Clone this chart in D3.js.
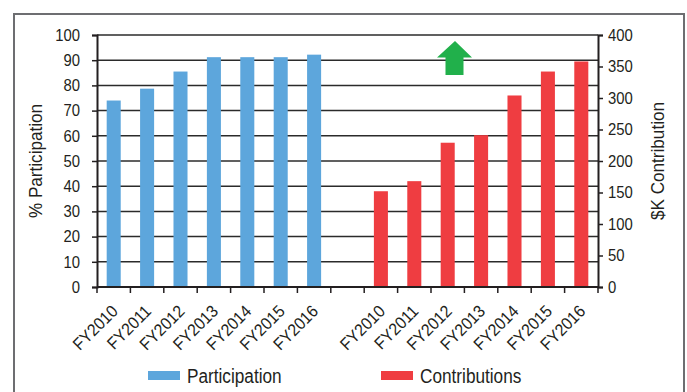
<!DOCTYPE html>
<html>
<head>
<meta charset="utf-8">
<script src="https://cdn.jsdelivr.net/npm/d3@7"></script>
<style>
body { margin: 0; background: #fff; }
text { font-family: "Liberation Sans", Arial, sans-serif; fill: #231f20; }
</style>
</head>
<body>
<div id="chart-area"></div>
<script>
// values
var years = ["FY2010", "FY2011", "FY2012", "FY2013", "FY2014", "FY2015", "FY2016"];
var participation = [74, 78.7, 85.5, 91.2, 91.2, 91.2, 92.2];   // %
var contributions = [152, 168, 229, 241, 304, 342, 358];       // $K
var leftTicks = [0, 10, 20, 30, 40, 50, 60, 70, 80, 90, 100];
var rightTicks = [0, 50, 100, 150, 200, 250, 300, 350, 400];
var seriesNames = ["Participation", "Contributions"];

var blue = "#5da6dc", red = "#ef3d41", green = "#21b04b";

var W = 687, H = 392;
var margin = {top: 35, right: 89, bottom: 105, left: 97};
var width = W - margin.left - margin.right,
    height = H - margin.top - margin.bottom;

// the source font is a narrow one, so squeeze the glyphs a bit
function condense(sel, f) {
    sel.each(function() {
        var len = this.getComputedTextLength();
        d3.select(this)
            .attr("textLength", len * f)
            .attr("lengthAdjust", "spacingAndGlyphs");
    });
}

var svg = d3.select("#chart-area")
    .append("svg")
    .attr("width", W)
    .attr("height", H);

// outer frame
svg.append("rect")
    .attr("x", 14).attr("y", 14)
    .attr("width", 670).attr("height", 400)
    .attr("fill", "none")
    .attr("stroke", "#6d6e71")
    .attr("stroke-width", 2);

var g = svg.append("g")
    .attr("transform", "translate(" + margin.left + "," + margin.top + ")");

// 7 participation slots, one empty slot, 7 contribution slots
var slots = years.map(function(y) { return "P" + y; })
    .concat(["gap"])
    .concat(years.map(function(y) { return "C" + y; }));

var x = d3.scaleBand()
    .domain(slots)
    .range([0, width])
    .padding(0);

var yL = d3.scaleLinear().domain([0, 100]).range([height, 0]);
var yR = d3.scaleLinear().domain([0, 400]).range([height, 0]);

var barW = x.bandwidth() * 0.42;

// gridlines
g.selectAll(".grid")
    .data(leftTicks.filter(function(d) { return d > 0; }))
    .enter().append("line")
    .attr("class", "grid")
    .attr("x1", 0).attr("x2", width)
    .attr("y1", function(d) { return yL(d); })
    .attr("y2", function(d) { return yL(d); })
    .attr("stroke", "#2b2b2b")
    .attr("stroke-width", 1.5);

// bars
g.selectAll(".bar-p")
    .data(participation)
    .enter().append("rect")
    .attr("class", "bar-p")
    .attr("x", function(d, i) { return x("P" + years[i]) + (x.bandwidth() - barW) / 2; })
    .attr("width", barW)
    .attr("y", function(d) { return yL(d); })
    .attr("height", function(d) { return height - yL(d); })
    .attr("fill", blue);

g.selectAll(".bar-c")
    .data(contributions)
    .enter().append("rect")
    .attr("class", "bar-c")
    .attr("x", function(d, i) { return x("C" + years[i]) + (x.bandwidth() - barW) / 2; })
    .attr("width", barW)
    .attr("y", function(d) { return yR(d); })
    .attr("height", function(d) { return height - yR(d); })
    .attr("fill", red);

// left axis
var left = g.append("g")
    .call(d3.axisLeft(yL).tickValues(leftTicks).tickSize(5).tickPadding(12));
// right axis
var right = g.append("g")
    .attr("transform", "translate(" + width + ",0)")
    .call(d3.axisRight(yR).tickValues(rightTicks).tickSize(5).tickPadding(5));

[left, right].forEach(function(a) {
    a.attr("font-size", null).attr("font-family", null);
    a.select(".domain").attr("stroke", "#231f20").attr("stroke-width", 2);
    a.selectAll(".tick line").attr("stroke", "#231f20").attr("stroke-width", 1.5);
    a.selectAll("text")
        .style("font-size", "16.5px")
        .attr("fill", "#231f20")
        .call(condense, 0.9);
});

// bottom axis: ticks at slot boundaries
var bottom = g.append("g").attr("transform", "translate(0," + height + ")");
bottom.append("line")
    .attr("x1", 0).attr("x2", width)
    .attr("stroke", "#231f20").attr("stroke-width", 2);
bottom.selectAll(".xtick")
    .data(slots.concat(["end"]))
    .enter().append("line")
    .attr("class", "xtick")
    .attr("x1", function(d) { return d === "end" ? width : x(d); })
    .attr("x2", function(d) { return d === "end" ? width : x(d); })
    .attr("y1", 0).attr("y2", 6)
    .attr("stroke", "#231f20").attr("stroke-width", 1.5);

bottom.selectAll(".xlabel")
    .data(slots.filter(function(d) { return d !== "gap"; }))
    .enter().append("text")
    .attr("class", "xlabel")
    .attr("transform", function(d) {
        return "translate(" + (x(d) + x.bandwidth() / 2 + 1) + ",21) rotate(-45)";
    })
    .attr("text-anchor", "end")
    .attr("dy", "0.35em")
    .style("font-size", "17px")
    .text(function(d) { return d.slice(1); })
    .call(condense, 0.93);

// axis titles
svg.append("text")
    .attr("transform", "translate(35," + (margin.top + height / 2) + ") rotate(-90)")
    .attr("text-anchor", "middle")
    .attr("dy", "0.35em")
    .style("font-size", "19px")
    .text("% Participation")
    .call(condense, 0.9);

svg.append("text")
    .attr("transform", "translate(657," + (margin.top + height / 2) + ") rotate(-90)")
    .attr("text-anchor", "middle")
    .attr("dy", "0.35em")
    .style("font-size", "19px")
    .text("$K Contribution")
    .call(condense, 0.9);

// green up arrow
var ax = 455, ay = 41;
svg.append("path")
    .attr("d", "M" + ax + "," + ay +
        " l17,16.5 h-8.5 v17.5 h-18 v-17.5 h-8.5 Z")
    .attr("fill", green);

// legend
var legend = svg.selectAll(".legend")
    .data(seriesNames)
    .enter().append("g")
    .attr("class", "legend")
    .attr("transform", function(d, i) { return "translate(" + (i === 0 ? 148 : 381) + ",371)"; });

legend.append("rect")
    .attr("width", 32).attr("height", 9)
    .attr("fill", function(d, i) { return i === 0 ? blue : red; });

legend.append("text")
    .attr("x", 39).attr("y", 11.5)
    .style("font-size", "20px")
    .text(function(d) { return d; })
    .call(condense, 0.86);
</script>
</body>
</html>
